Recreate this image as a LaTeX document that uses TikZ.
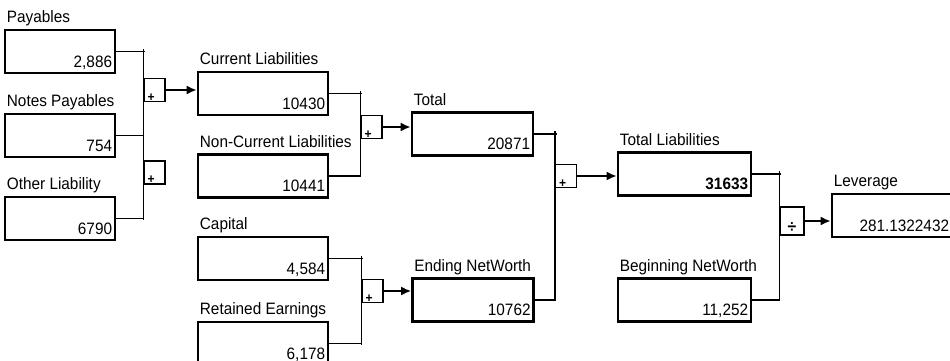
\documentclass[tikz,border=0pt]{standalone}
\usepackage{fontspec}
\setmainfont{Liberation Sans}[FakeStretch=0.93]
\usetikzlibrary{arrows.meta}

\begin{document}
\begin{tikzpicture}[>={Latex[length=10pt,width=9pt]}, x=1pt, y=-1pt,
  font=\fontsize{16.5}{19}\selectfont,
  acc/.style={draw, line width=2.6pt, minimum height=43pt, inner sep=0pt},
  ttl/.style={anchor=base west, xshift=3pt, yshift=6pt, inner sep=0pt},
  val/.style={anchor=base east, xshift=-4pt, yshift=7pt, inner sep=0pt},
  opbox/.style={draw, line width=1.2pt, minimum width=21pt, minimum height=23pt, inner sep=0pt},
  sgn/.style={anchor=base west, xshift=4pt, yshift=1pt, inner sep=0pt, font=\fontsize{13}{13}\selectfont\bfseries},
  wire/.style={line width=1.6pt},
  arr/.style={->, line width=2.2pt}]
\useasboundingbox (0,0) rectangle (950,361);

\node[acc, minimum width=110pt] (pay) at (60,51.5) {};
\node[ttl] (payt) at (pay.north west) {Payables};
\node[val] (payv) at (pay.south east) {2,886};
\node[acc, minimum width=110pt] (notes) at (60,135.5) {};
\node[ttl] (notest) at (notes.north west) {Notes Payables};
\node[val] (notesv) at (notes.south east) {754};
\node[acc, minimum width=110pt] (oth) at (60,218.5) {};
\node[ttl] (otht) at (oth.north west) {Other Liability};
\node[val] (othv) at (oth.south east) {6790};

\node[opbox] (op1) at (154.5,90) {};
\node[sgn] (op1s) at (op1.south west) {+};
\node[opbox] (op2) at (154.5,172.5) {};
\node[sgn] (op2s) at (op2.south west) {+};

\draw[wire] ([yshift=2pt]pay.east -| op1.west) -- ([yshift=-1pt]oth.east -| op1.west);
\draw[wire] (pay.east) -- ([xshift=2pt]pay.east -| op1.west);
\draw[wire] (notes.east) -- (notes.east -| op1.west);
\draw[wire] (oth.east) -- (oth.east -| op1.west);

\node[acc, minimum width=130pt] (cl) at (263,93.5) {};
\node[ttl] (clt) at (cl.north west) {Current Liabilities};
\node[val] (clv) at (cl.south east) {10430};
\node[acc, minimum width=130pt] (ncl) at (263,176) {};
\node[ttl] (nclt) at (ncl.north west) {Non-Current Liabilities};
\node[val] (nclv) at (ncl.south east) {10441};
\node[acc, minimum width=130pt] (cap) at (263,258.5) {};
\node[ttl] (capt) at (cap.north west) {Capital};
\node[val] (capv) at (cap.south east) {4,584};
\node[acc, minimum width=130pt] (ret) at (263,343.5) {};
\node[ttl] (rett) at (ret.north west) {Retained Earnings};
\node[val] (retv) at (ret.south east) {6,178};

\draw[arr] (op1.east) -- (op1.east -| cl.west);

\node[opbox] (op3) at (371.5,127) {};
\node[sgn] (op3s) at (op3.south west) {+};
\node[opbox] (op4) at (372.5,291) {};
\node[sgn] (op4s) at (op4.south west) {+};

\draw[wire] ([yshift=3pt]cl.east -| op3.west) -- ([yshift=-1pt]ncl.east -| op3.west);
\draw[wire] (cl.east) -- ([xshift=2pt]cl.east -| op3.west);
\draw[wire] (ncl.east) -- (ncl.east -| op3.west);
\draw[wire] ([yshift=3pt]cap.east -| op4.west) -- ([yshift=-1pt]ret.east -| op4.west);
\draw[wire] (cap.east) -- ([xshift=2pt]cap.east -| op4.west);
\draw[wire] (ret.east) -- (ret.east -| op4.west);

\node[acc, minimum width=121pt] (tot) at (472.5,134) {};
\node[ttl] (tott) at (tot.north west) {Total};
\node[val] (totv) at (tot.south east) {20871};
\node[acc, minimum width=121pt] (enw) at (473,300) {};
\node[ttl] (enwt) at (enw.north west) {Ending NetWorth};
\node[val] (enwv) at (enw.south east) {10762};

\draw[arr] (op3.east) -- (op3.east -| tot.west);
\draw[arr] (op4.east) -- (op4.east -| enw.west);

\node[opbox] (op5) at (566,176) {};
\node[sgn] (op5s) at (op5.south west) {+};

\draw[wire] ([yshift=3pt]tot.east -| op5.west) -- ([yshift=-1pt]enw.east -| op5.west);
\draw[wire] (tot.east) -- ([xshift=2pt]tot.east -| op5.west);
\draw[wire] (enw.east) -- (enw.east -| op5.west);

\node[acc, minimum width=133pt] (tl) at (684.5,174) {};
\node[ttl] (tlt) at (tl.north west) {Total Liabilities};
\node[val, font=\fontsize{16.5}{19}\selectfont\bfseries] (tlv) at (tl.south east) {31633};
\node[acc, minimum width=133pt] (bnw) at (684.5,300) {};
\node[ttl] (bnwt) at (bnw.north west) {Beginning NetWorth};
\node[val] (bnwv) at (bnw.south east) {11,252};

\draw[arr] (op5.east) -- (op5.east -| tl.west);

\node[opbox, minimum width=24pt, minimum height=28pt] (op6) at (792,221) {};
\node[anchor=base, yshift=3pt, inner sep=0pt, font=\fontsize{17}{17}\selectfont\bfseries] (op6s) at (op6.south) {÷};

\draw[wire] ([yshift=3pt]tl.east -| op6.west) -- ([yshift=-1pt]bnw.east -| op6.west);
\draw[wire] (tl.east) -- ([xshift=2pt]tl.east -| op6.west);
\draw[wire] (bnw.east) -- (bnw.east -| op6.west);

\node[acc, minimum width=124pt] (lev) at (894,215.5) {};
\node[ttl] (levt) at (lev.north west) {Leverage};
\node[val, xshift=-4pt] (levv) at (lev.south east) {281.1322432};

\draw[arr] (op6.east) -- (op6.east -| lev.west);
\end{tikzpicture}
\end{document}
